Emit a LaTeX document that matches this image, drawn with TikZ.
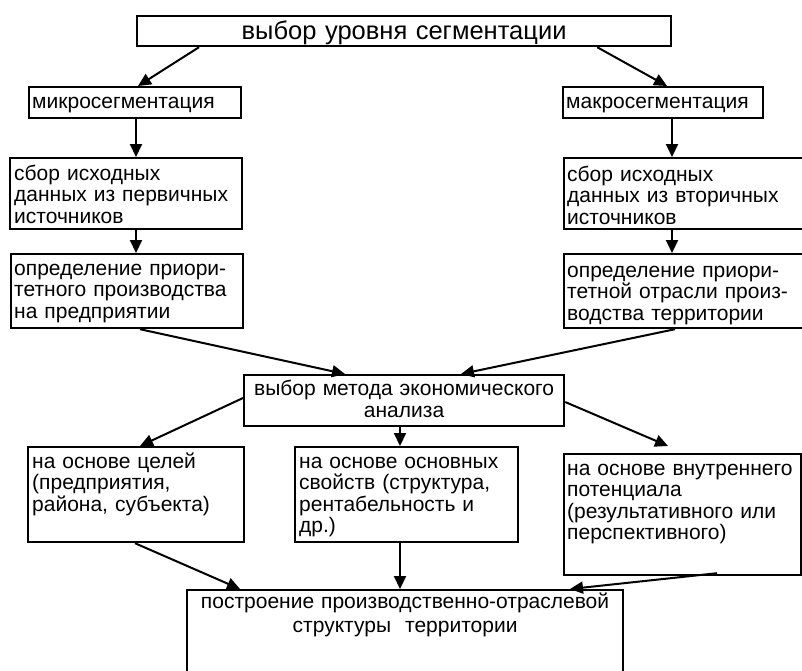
\documentclass[tikz,border=0pt]{standalone}
\usepackage{fontspec}
\setmainfont{Liberation Sans}
\usetikzlibrary{arrows.meta}
\tikzset{
  box/.style={draw, line width=2.2pt, inner sep=0pt, anchor=north west},
  txt/.style={inner sep=0pt, anchor=base west, align=left, text width=#1,
    font=\fontsize{21}{21.5}\selectfont},
  ctxt/.style={inner sep=0pt, anchor=base, align=center, text width=#1,
    font=\fontsize{21}{22}\selectfont},
  arr/.style={line width=2pt, -{Triangle[length=13pt,width=12pt]}}
}
\begin{document}
\begin{tikzpicture}[x=1pt,y=-1pt]
\useasboundingbox (0,0) rectangle (802,670);
% boxes
\node[box, minimum width=534pt, minimum height=30pt] (top) at (136,15) {};
\node[box, minimum width=212pt, minimum height=31pt] (micro) at (28,86) {};
\node[box, minimum width=200pt, minimum height=31pt] (macro) at (562,86) {};
\node[box, minimum width=232pt, minimum height=71pt] (sbor1) at (9,157) {};
\node[box, minimum width=270pt, minimum height=71pt] (sbor2) at (563,157) {};
\node[box, minimum width=232pt, minimum height=74pt] (opr1) at (10,253) {};
\node[box, minimum width=270pt, minimum height=74pt] (opr2) at (563,253) {};
\node[box, minimum width=320pt, minimum height=51pt] (metod) at (243,374) {};
\node[box, minimum width=216pt, minimum height=95pt] (celi) at (27,446) {};
\node[box, minimum width=223pt, minimum height=95pt] (svoj) at (294,446) {};
\node[box, minimum width=237pt, minimum height=121pt] (pot) at (563,453) {};
\node[box, minimum width=436pt, minimum height=120pt] (final) at (186,589) {};
% texts
\node[ctxt=534pt, font=\fontsize{25.5}{26}\selectfont] (ttop) at ([yshift=-24pt]top.north)
  {выбор уровня сегментации};
\node[txt=250pt] (tmicro) at ([shift={(4pt,-22pt)}]micro.north west) {микросегментация};
\node[txt=250pt] (tmacro) at ([shift={(4pt,-22pt)}]macro.north west) {макросегментация};
\node[txt=250pt] (tsbor1) at ([shift={(5pt,-23pt)}]sbor1.north west)
  {сбор исходных\\данных из первичных\\источников};
\node[txt=250pt] (tsbor2) at ([shift={(4pt,-24pt)}]sbor2.north west)
  {сбор исходных\\данных из вторичных\\источников};
\node[txt=250pt] (topr1) at ([shift={(4pt,-22pt)}]opr1.north west)
  {определение приори-\\тетного производства\\на предприятии};
\node[txt=250pt] (topr2) at ([shift={(4pt,-24pt)}]opr2.north west)
  {определение приори-\\тетной отрасли произ-\\водства территории};
\node[ctxt=320pt] (tmetod) at ([yshift=-21pt]metod.north)
  {выбор метода экономического\\анализа};
\node[txt=250pt] (tceli) at ([shift={(5pt,-22pt)}]celi.north west)
  {на основе целей\\(предприятия,\\района, субъекта)};
\node[txt=250pt] (tsvoj) at ([shift={(5pt,-22pt)}]svoj.north west)
  {на основе основных\\свойств (структура,\\рентабельность и\\др.)};
\node[txt=250pt] (tpot) at ([shift={(4pt,-22pt)}]pot.north west)
  {на основе внутреннего\\потенциала\\(результативного или\\перспективного)};
\node[ctxt=436pt, font=\fontsize{21}{24}\selectfont] (tfinal) at ([yshift=-19pt]final.north)
  {построение производственно-отраслевой\\структуры\ \ территории};
% connectors
\draw[arr] ([xshift=63pt]top.south west) -- ([xshift=110pt]micro.north west);
\draw[arr] ([xshift=-75pt]top.south east) -- ([xshift=105pt]macro.north west);
\draw[arr] ([xshift=108pt]micro.south west) -- ([xshift=127pt]sbor1.north west);
\draw[arr] ([xshift=110pt]macro.south west) -- ([xshift=109pt]sbor2.north west);
\draw[arr] ([xshift=127pt]sbor1.south west) -- ([xshift=126pt]opr1.north west);
\draw[arr] ([xshift=109pt]sbor2.south west) -- ([xshift=109pt]opr2.north west);
\draw[arr] ([xshift=130pt]opr1.south west) -- ([xshift=102pt]metod.north west);
\draw[arr] ([xshift=112pt]opr2.south west) -- ([xshift=218pt]metod.north west);
\draw[arr] ([yshift=-24pt]metod.north west) -- ([xshift=113pt]celi.north west);
\draw[arr] ([xshift=157pt]metod.south west) -- ([xshift=106pt]svoj.north west);
\draw[arr] ([yshift=-28pt]metod.north east) -- ([shift={(105pt,7pt)}]pot.north west);
\draw[arr] ([xshift=108pt]celi.south west) -- ([xshift=54pt]final.north west);
\draw[arr] ([xshift=106pt]svoj.south west) -- ([xshift=214pt]final.north west);
\draw[arr] ([shift={(154pt,3pt)}]pot.south west) -- ([xshift=384pt]final.north west);
\end{tikzpicture}
\end{document}
